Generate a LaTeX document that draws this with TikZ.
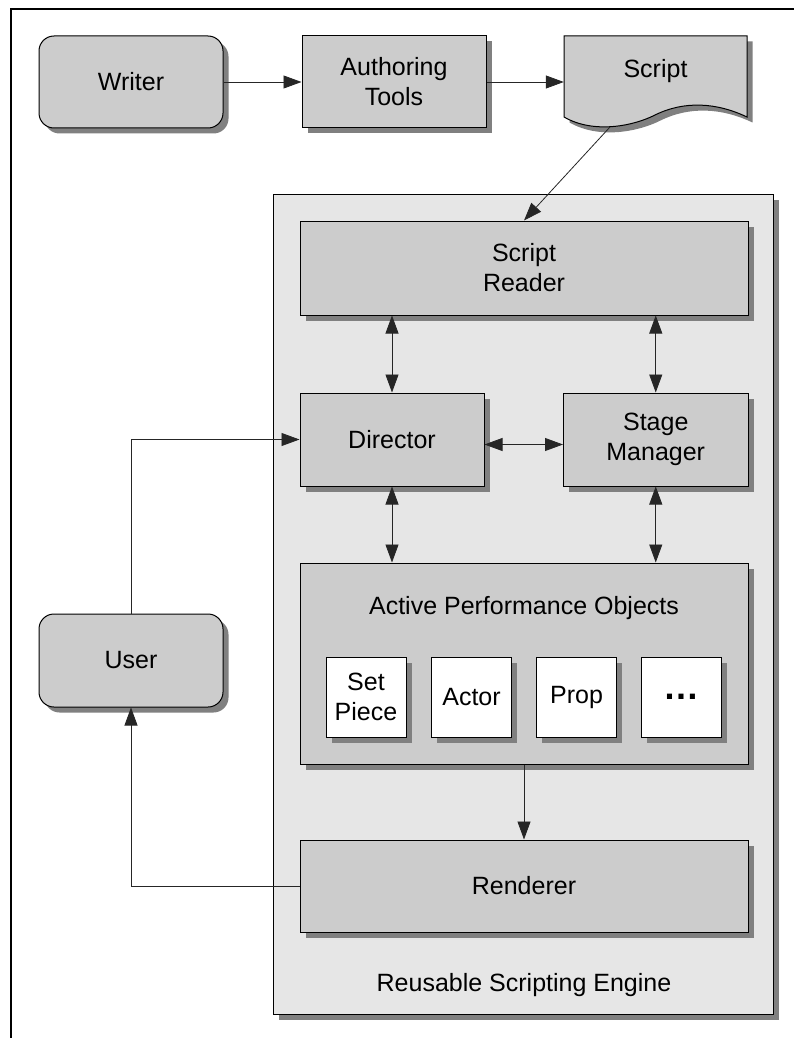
\documentclass[tikz,border=0pt]{standalone}
\usepackage{fontspec}
\setmainfont{Liberation Sans}
\usetikzlibrary{arrows.meta,shadows,calc}
\definecolor{boxgray}{RGB}{204,204,204}
\definecolor{enginegray}{RGB}{230,230,230}
\definecolor{shadowgray}{RGB}{128,128,128}
\tikzset{
  every node/.style={font=\fontsize{25}{30}\selectfont},
  shd/.style={drop shadow={shadow xshift=5.5pt, shadow yshift=-5.5pt, fill=shadowgray, opacity=1}},
  gbox/.style={rectangle, draw=black, line width=1pt, fill=boxgray, shd, align=center, inner sep=0pt},
  rbox/.style={gbox, rounded corners=15pt},
  wbox/.style={gbox, fill=white, minimum width=80pt, minimum height=80pt},
  conn/.style={line width=0.8pt, draw=black!85},
  tip/.style={-{Triangle[length=18pt,width=13pt]}},
  tips/.style={{Triangle[length=18pt,width=13pt]}-{Triangle[length=18pt,width=13pt]}},
}
\begin{document}
\begin{tikzpicture}[x=1pt,y=-1pt]
\useasboundingbox (0,0) rectangle (794,1038);
% frame
\draw[line width=1.2pt] (11,1038) -- (11,9) -- (794,9);

% engine container
\node[gbox, fill=enginegray, minimum width=500pt, minimum height=820pt] (engine) at (523,604) {};
\node (enginelbl) at (524,985) {Reusable Scripting Engine};

% top row
\node[rbox, minimum width=184pt, minimum height=92pt] (writer) at (131,82) {Writer};
\node[gbox, minimum width=184pt, minimum height=92pt] (author) at (394,82) {Authoring\\Tools};

% script document shape
\fill[shadowgray] (569.5,41.5) -- (752.5,41.5) -- (752.5,122.5)
  .. controls (722,108) and (690,106) .. (660.5,120.5)
  .. controls (640,131) and (600,140) .. (569.5,122.5) -- cycle;
\draw[line width=1pt, fill=boxgray] (564,36) -- (747,36) -- (747,117)
  .. controls (716.5,102.5) and (684.5,100.5) .. (655,115)
  .. controls (634.5,125.5) and (594.5,134.5) .. (564,117) -- cycle;
\node[minimum width=183pt, minimum height=81pt, inner sep=0pt] (script) at (655.5,76.5) {};
\node (scripttxt) at (655.5,71) {Script};
\coordinate (scriptbot) at (610,127);

% engine internals
\node[gbox, minimum width=448pt, minimum height=94pt] (reader) at (524,268) {Script\\Reader};
\node[gbox, minimum width=184pt, minimum height=93pt] (director) at (392,439.5) {Director};
\node[gbox, minimum width=184.5pt, minimum height=93pt] (stage) at (655.75,439.5) {Stage\\Manager};
\node[gbox, minimum width=448pt, minimum height=201pt] (apo) at (524,663.5) {};
\node (apotxt) at (524,608) {Active Performance Objects};
\node[wbox] (setpiece) at (366,697) {Set\\Piece};
\node[wbox] (actor) at (471.5,697) {Actor};
\node[wbox] (prop) at (576.5,697) {Prop};
\node[wbox, font=\fontsize{36}{40}\selectfont\bfseries] (more) at (681.75,697) {…};
\node[gbox, minimum width=448pt, minimum height=92pt] (renderer) at (524,886) {Renderer};

% user
\node[rbox, minimum width=184pt, minimum height=93pt] (user) at (131,660.5) {User};

% connectors
\draw[conn, tip] (writer.east) -- (author.west);
\draw[conn, tip] (author.east) -- (author.east -| script.west);
\draw[conn, tip] (scriptbot) -- (reader.north);
\draw[conn, tips] (reader.south -| director.north) -- (director.north);
\draw[conn, tips] (reader.south -| stage.north) -- (stage.north);
\draw[conn, tips] ($(director.east)+(0,5)$) -- ($(stage.west)+(0,5)$);
\draw[conn, tips] (director.south) -- (director.south |- apo.north);
\draw[conn, tips] (stage.south) -- (stage.south |- apo.north);
\draw[conn, tip] (apo.south) -- (renderer.north);
\draw[conn, tip] (renderer.west) -| (user.south);
\draw[conn, tip] (user.north) |- (director.west);
\end{tikzpicture}
\end{document}
